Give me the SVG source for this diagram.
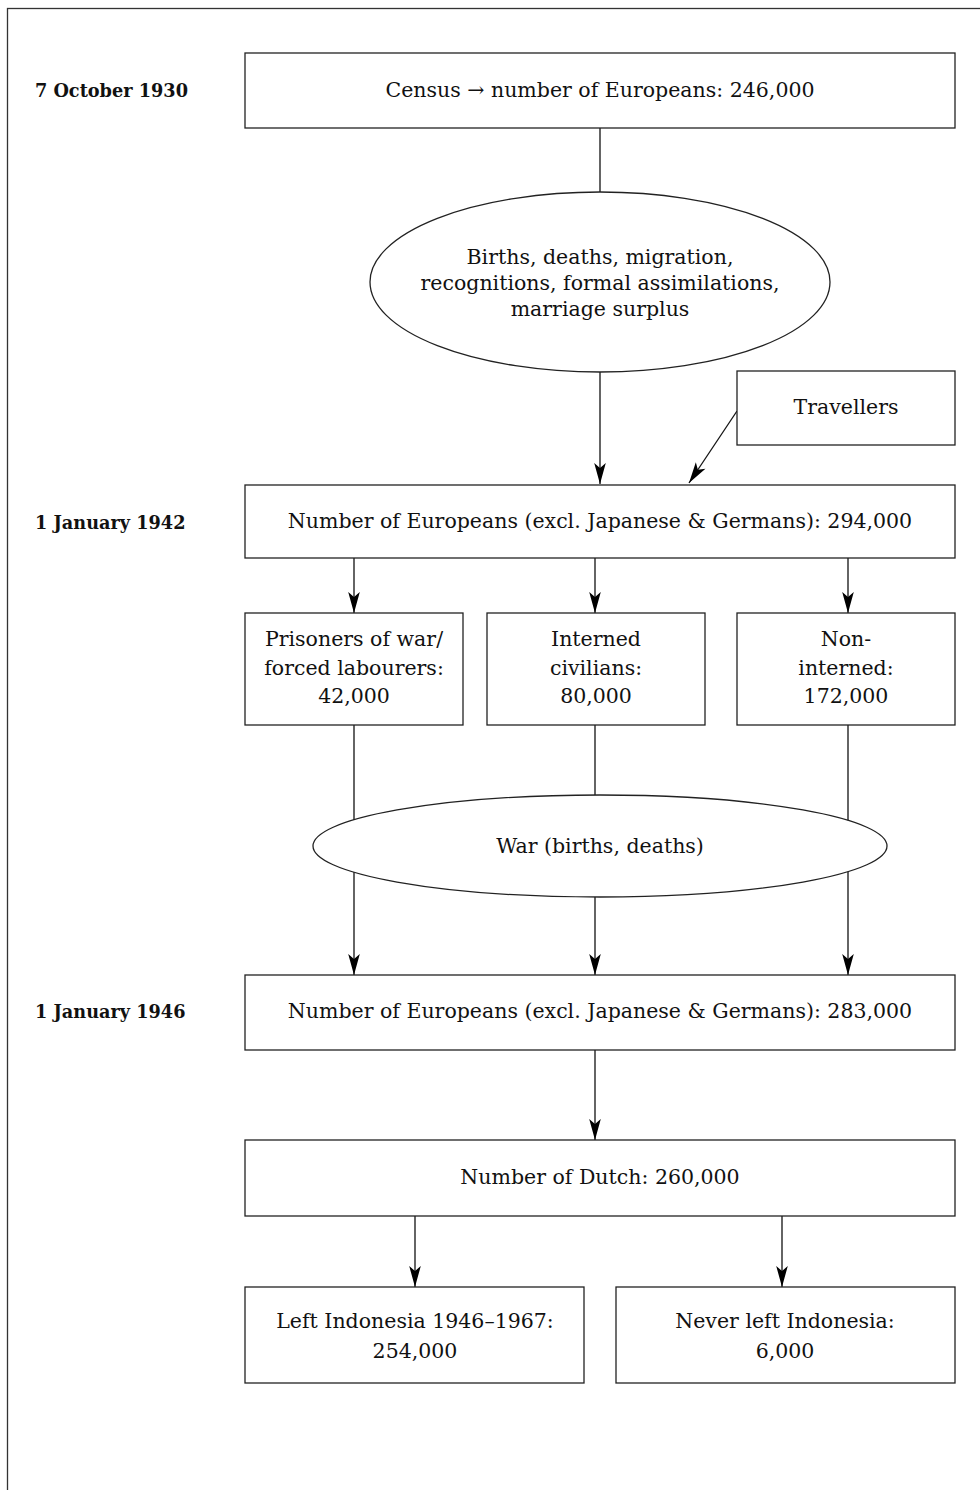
<svg xmlns="http://www.w3.org/2000/svg" width="980" height="1490" viewBox="0 0 980 1490">
<style>
.box{fill:#fff;stroke:#222;stroke-width:1.3}
.t{font-family:"DejaVu Serif","Liberation Serif",serif;font-size:20.5px;fill:#111;text-anchor:middle}
.lab{font-family:"DejaVu Serif","Liberation Serif",serif;font-size:17.7px;font-weight:bold;fill:#111}
.c{stroke:#111;stroke-width:1.3;fill:none}
</style>
<defs>
<marker id="ah" viewBox="-22 -6 24 12" refX="0" refY="0" markerWidth="24" markerHeight="12" markerUnits="userSpaceOnUse" orient="auto">
<path d="M0,0 L-21,-5.8 L-16,0 L-21,5.8 Z" fill="#000"/>
</marker>
</defs>
<rect x="7.5" y="8.5" width="1000" height="1520" fill="none" stroke="#333" stroke-width="1.3"/>
<g id="labels">
<text class="lab" x="35" y="97">7 October 1930</text>
<text class="lab" x="35" y="529">1 January 1942</text>
<text class="lab" x="35" y="1018">1 January 1946</text>
</g>
<g id="connectors">
<line class="c" x1="600" y1="128" x2="600" y2="192"/>
<line class="c" x1="600" y1="372" x2="600" y2="484" marker-end="url(#ah)"/>
<line class="c" x1="737" y1="411" x2="689" y2="483" marker-end="url(#ah)"/>
<line class="c" x1="354" y1="558" x2="354" y2="613" marker-end="url(#ah)"/>
<line class="c" x1="595" y1="558" x2="595" y2="613" marker-end="url(#ah)"/>
<line class="c" x1="848" y1="558" x2="848" y2="613" marker-end="url(#ah)"/>
<line class="c" x1="354" y1="725" x2="354" y2="975" marker-end="url(#ah)"/>
<line class="c" x1="595" y1="725" x2="595" y2="975" marker-end="url(#ah)"/>
<line class="c" x1="848" y1="725" x2="848" y2="975" marker-end="url(#ah)"/>
<line class="c" x1="595" y1="1050" x2="595" y2="1140" marker-end="url(#ah)"/>
<line class="c" x1="415" y1="1216" x2="415" y2="1287" marker-end="url(#ah)"/>
<line class="c" x1="782" y1="1216" x2="782" y2="1287" marker-end="url(#ah)"/>
</g>
<g id="census">
<rect class="box" x="245" y="53" width="710" height="75"/>
<text class="t" x="600" y="97">Census → number of Europeans: 246,000</text>
</g>
<g id="changes">
<ellipse class="box" cx="600" cy="282" rx="230" ry="90"/>
<text class="t" x="600" y="264">Births, deaths, migration,</text>
<text class="t" x="600" y="290">recognitions, formal assimilations,</text>
<text class="t" x="600" y="316">marriage surplus</text>
</g>
<g id="travellers">
<rect class="box" x="737" y="371" width="218" height="74"/>
<text class="t" x="846" y="414">Travellers</text>
</g>
<g id="n1942">
<rect class="box" x="245" y="485" width="710" height="73"/>
<text class="t" x="600" y="528">Number of Europeans (excl. Japanese &amp; Germans): 294,000</text>
</g>
<g id="pow">
<rect class="box" x="245" y="613" width="218" height="112"/>
<text class="t" x="354" y="646">Prisoners of war/</text>
<text class="t" x="354" y="675">forced labourers:</text>
<text class="t" x="354" y="703">42,000</text>
</g>
<g id="interned">
<rect class="box" x="487" y="613" width="218" height="112"/>
<text class="t" x="596" y="646">Interned</text>
<text class="t" x="596" y="675">civilians:</text>
<text class="t" x="596" y="703">80,000</text>
</g>
<g id="noninterned">
<rect class="box" x="737" y="613" width="218" height="112"/>
<text class="t" x="846" y="646">Non-</text>
<text class="t" x="846" y="675">interned:</text>
<text class="t" x="846" y="703">172,000</text>
</g>
<g id="war">
<ellipse class="box" cx="600" cy="846" rx="287" ry="51"/>
<text class="t" x="600" y="853">War (births, deaths)</text>
</g>
<g id="n1946">
<rect class="box" x="245" y="975" width="710" height="75"/>
<text class="t" x="600" y="1018">Number of Europeans (excl. Japanese &amp; Germans): 283,000</text>
</g>
<g id="dutch">
<rect class="box" x="245" y="1140" width="710" height="76"/>
<text class="t" x="600" y="1184">Number of Dutch: 260,000</text>
</g>
<g id="left">
<rect class="box" x="245" y="1287" width="339" height="96"/>
<text class="t" x="415" y="1328">Left Indonesia 1946–1967:</text>
<text class="t" x="415" y="1358">254,000</text>
</g>
<g id="never">
<rect class="box" x="616" y="1287" width="339" height="96"/>
<text class="t" x="785" y="1328">Never left Indonesia:</text>
<text class="t" x="785" y="1358">6,000</text>
</g>
</svg>
